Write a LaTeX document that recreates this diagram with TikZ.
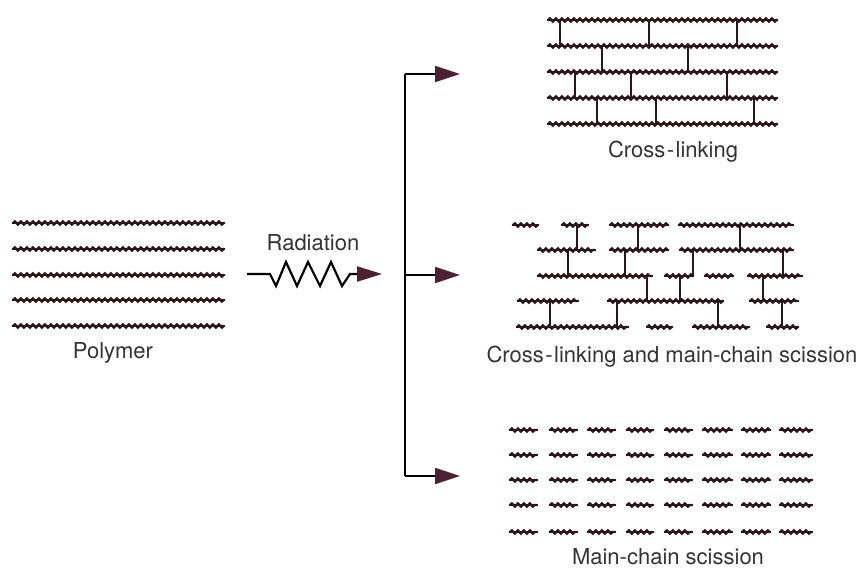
\documentclass[tikz,border=0pt]{standalone}
\usepackage{fontspec}
\setmainfont{TeX Gyre Heros}
\usetikzlibrary{decorations.pathmorphing,arrows.meta}
\definecolor{chainc}{HTML}{2A161B}
\definecolor{tipc}{HTML}{4A2232}
\definecolor{textc}{HTML}{333333}
\tikzset{
  chain/.style={draw=chainc,line width=2.3pt,line cap=round,
    preaction={draw=chainc,line width=2.6pt,line cap=round},
    postaction={draw=chainc,line width=2.3pt,decorate,
      decoration={snake,amplitude=1.6pt,segment length=6pt}}},
  link/.style={draw=chainc,line width=1.9pt},
  label/.style={text=textc,font=\fontsize{22}{26}\selectfont,inner sep=0pt},
  feed/.style={draw=black,line width=1.8pt},
  arr/.style={feed,-{Triangle[length=25pt,width=16pt,fill=tipc,color=tipc]}},
}
\newcommand{\hy}{\kern1.5pt-\kern1.5pt}
\begin{document}
\begin{tikzpicture}[x=1pt,y=-1pt]
\useasboundingbox (0,0) rectangle (863,568);

% starting polymer: five long chains
\foreach \y in {223,249,275,300,326}
  \path[chain] (13,\y) -- (224,\y);
\node[label] (polymer) at (113,353) {Polymer};

% radiation (zig-zag) arrow
\node[label] (radiation) at (313,243) {Radiation};
\coordinate (zs) at (247,274);
\coordinate (rad) at (382,274);
\draw[feed,line width=2.2pt,line join=miter,-{Triangle[length=25pt,width=15pt,fill=tipc,color=tipc]}]
  (zs) -- (270,274) -- (276,286) -- (286,262) -- (297,286) -- (308,262)
  -- (320,286) -- (331,262) -- (342,286) -- (350,274) -- (rad);

% branching arrows
\coordinate (top) at (405,74);
\coordinate (mid) at (405,275);
\coordinate (bot) at (405,476);
\coordinate (ta) at (460,74);
\coordinate (ma) at (460,275);
\coordinate (ba) at (460,476);
\draw[feed] (top) -- (bot);
\draw[arr] (top) -- (ta);
\draw[arr] (mid) -- (ma);
\draw[arr] (bot) -- (ba);

% cross-linked network
\foreach \y in {20,46,72,98,124}
  \path[chain] (548,\y) -- (777,\y);
\foreach \x/\ya/\yb in {560/20/46,649/20/46,737/20/46,
    602/46/72,688/46/72,
    575/72/98,631/72/98,727/72/98,
    597/98/124,656/98/124,754/98/124}
  \draw[link] (\x,\ya) -- (\x,\yb);
\node[label] (xl) at (673,152) {Cross\hy linking};

% cross-linking with scission
\foreach \y/\a/\b in {225/513/538,225/562/588,225/610/668,225/679/793,
    250/538/595,250/610/668,250/680/793,
    276/538/652,276/665/693,276/705/733,276/748/802,
    301/518/578,301/608/723,301/750/798,
    327/517/628,327/647/672,327/693/749,327/767/798}
  \path[chain] (\a,\y) -- (\b,\y);
\foreach \x/\ya/\yb in {577/225/250,638/225/250,740/225/250,
    568/250/276,625/250/276,693/250/276,783/250/276,
    647/276/301,680/276/301,763/276/301,
    550/301/327,617/301/327,718/301/327,782/301/327}
  \draw[link] (\x,\ya) -- (\x,\yb);
\node[label] (xs) at (672,357) {Cross\hy linking and main-chain scission};

% main-chain scission: short fragments
\foreach \y in {430,455,480,505,532}
  \foreach \a/\b in {510/537,550/577,588/615,627/653,665/692,703/732,742/770,780/812}
    \path[chain] (\a,\y) -- (\b,\y);
\node[label] (sc) at (668,557) {Main-chain scission};
\end{tikzpicture}
\end{document}
